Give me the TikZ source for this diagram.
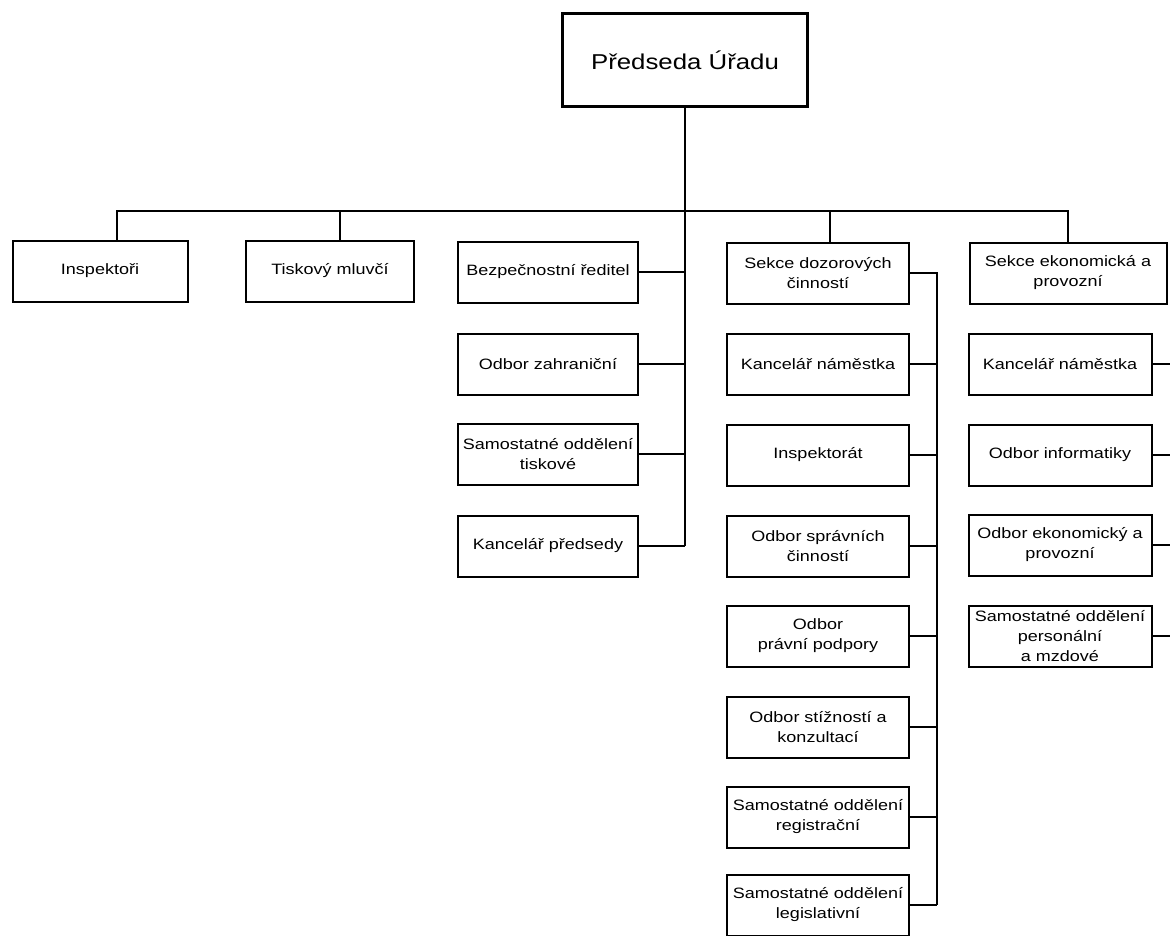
\documentclass[tikz,border=0pt]{standalone}
\usepackage{fontspec}
\setmainfont{Liberation Sans}[FakeStretch=1.2]
\usepackage{tikz}

\begin{document}
\begin{tikzpicture}[x=1pt,y=-1pt,
    unit/.style={draw,line width=2pt,minimum height=61pt,inner sep=2pt,align=center,font=\fontsize{15}{20}\selectfont},
    head/.style={unit,line width=3.6pt,minimum width=245pt,minimum height=93pt,font=\fontsize{21.5}{24}\selectfont},
    link/.style={line width=2pt}]
    \useasboundingbox (0,0) rectangle (1170,935);
    \clip (0,0) rectangle (1170,935);
    \node[head] (chair) at (685,60) {Předseda Úřadu};
    \coordinate (bus) at (0,211);
    \coordinate (bspine) at (937,0);
    \coordinate (cspine) at (1182,0);
    \node[unit,minimum width=175pt] (insp) at (100,271) {Inspektoři};
    \node[unit,minimum width=168pt] (tisk) at (330,271) {Tiskový mluvčí};
    \foreach \n/\y/\t in {a1/272/{Bezpečnostní ředitel},a2/364/{Odbor zahraniční},
        a3/454/{Samostatné oddělení\\tiskové},a4/546/{Kancelář předsedy}} {
      \node[unit,minimum width=180pt] (\n) at (548,\y) {\t};
    }
    \foreach \n/\y/\t in {b1/273/{Sekce dozorových\\činností},b2/364/{Kancelář náměstka},
        b3/455/{Inspektorát},b4/546/{Odbor správních\\činností},b5/636/{Odbor\\právní podpory},
        b6/727/{Odbor stížností a\\konzultací},b7/817/{Samostatné oddělení\\registrační},
        b8/905/{Samostatné oddělení\\legislativní}} {
      \node[unit,minimum width=182pt] (\n) at (818,\y) {\t};
    }
    \node[unit,minimum width=197pt] (c1) at (1068,273) {Sekce ekonomická a\\provozní};
    \foreach \n/\y/\t in {c2/364/{Kancelář náměstka},c3/455/{Odbor informatiky},
        c4/545/{Odbor ekonomický a\\provozní},c5/636/{Samostatné oddělení\\personální\\a mzdové}} {
      \node[unit,minimum width=183pt] (\n) at (1060,\y) {\t};
    }
    \draw[link] ([xshift=17pt]insp.north) |- (bus -| c1.north) to (c1.north);
    \draw[link] ([xshift=10pt]tisk.north) to ([xshift=10pt]tisk.north |- bus);
    \draw[link] ([xshift=12pt]b1.north) to ([xshift=12pt]b1.north |- bus);
    \draw[link] (chair.south) to (chair.south |- a4.east);
    \foreach \n in {a1,a2,a3,a4} {
      \draw[link] (\n.east) to (\n.east -| chair.south);
    }
    \draw[link] (b1.east) -| (bspine |- b8.east);
    \foreach \n in {b2,b3,b4,b5,b6,b7,b8} {
      \draw[link] (\n.east) to (\n.east -| bspine);
    }
    \foreach \n in {c2,c3,c4,c5} {
      \draw[link] (\n.east) to (\n.east -| cspine);
    }
  \end{tikzpicture}
\end{document}
